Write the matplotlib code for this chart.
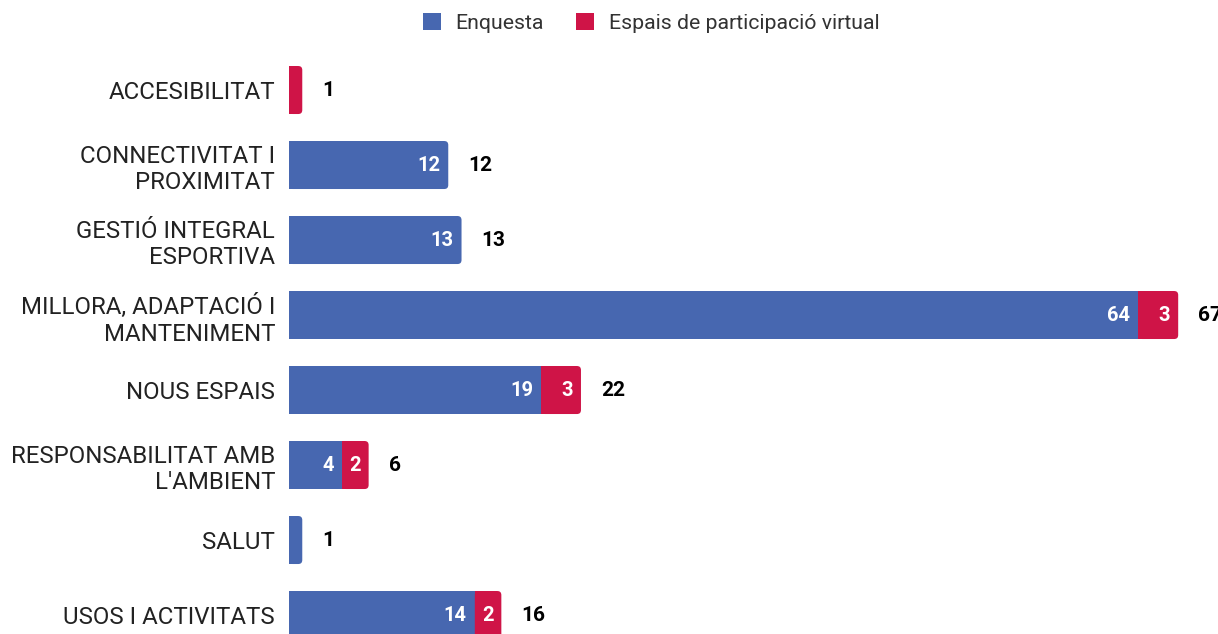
import matplotlib
matplotlib.use("Agg")
import matplotlib.pyplot as plt
import numpy as np
from matplotlib.transforms import offset_copy
from matplotlib.patches import FancyBboxPatch

categories = ["ACCESIBILITAT", "CONNECTIVITAT I\nPROXIMITAT", "GESTIÓ INTEGRAL\nESPORTIVA",
              "MILLORA, ADAPTACIÓ I\nMANTENIMENT", "NOUS ESPAIS", "RESPONSABILITAT AMB\nL'AMBIENT",
              "SALUT", "USOS I ACTIVITATS"]
enquesta = [0, 12, 13, 64, 19, 4, 1, 14]
virtual = [1, 0, 0, 3, 3, 2, 0, 2]
series_names = ["Enquesta", "Espais de participació virtual"]
colors = ["#4767B0", "#CF1447"]

plt.rcParams['font.family'] = ['Roboto', 'DejaVu Sans']

fig = plt.figure(figsize=(12.18, 6.34), dpi=100)
ax = fig.add_axes([289/1218, 0, 1 - 289/1218, (634-52)/634])

y = np.arange(len(categories))
h = 0.64
b1 = ax.barh(y, enquesta, height=h, color=colors[0], label=series_names[0])
b2 = ax.barh(y, virtual, left=enquesta, height=h, color=colors[1], label=series_names[1])

ax.set_xlim(0, 70)
ax.set_ylim(7.253, -0.507)

# rounded right end on the outermost segment of each stack
rx = 0.3
for i in range(len(categories)):
    e, v = enquesta[i], virtual[i]
    bars = b2 if v > 0 else b1
    p = bars.patches[i]
    x0, w = p.get_x(), p.get_width()
    y0, hh = p.get_y(), p.get_height()
    if w <= 0:
        continue
    p.set_width(max(w - rx, 0))
    fb = FancyBboxPatch((x0, y0), w, hh,
                        boxstyle=f"round,pad=0,rounding_size={rx}",
                        mutation_aspect=0.177, facecolor=p.get_facecolor(),
                        edgecolor='none')
    ax.add_patch(fb)

ax.set_yticks(y)
ax.set_yticklabels(categories, fontsize=17.3, color="#222222", linespacing=1.22)
ax.tick_params(axis='y', length=0, pad=10)
ax.set_xticks([])
for s in ax.spines.values():
    s.set_visible(False)

tr_in = offset_copy(ax.transData, fig=fig, x=-8, y=0, units='dots')
tr_tot = offset_copy(ax.transData, fig=fig, x=20, y=0, units='dots')
for i in range(len(categories)):
    e, v = enquesta[i], virtual[i]
    if e >= 2:
        ax.text(e, y[i], str(e), transform=tr_in, ha='right', va='center', color='white',
                fontsize=14.5, fontweight='bold', zorder=5)
    if v >= 2:
        ax.text(e + v, y[i], str(v), transform=tr_in, ha='right', va='center', color='white',
                fontsize=14.5, fontweight='bold', zorder=5)
    ax.text(e + v, y[i], str(e + v), transform=tr_tot, ha='left', va='center', color='black',
            fontsize=15, fontweight='bold', clip_on=True)

fig.legend(loc='center', bbox_to_anchor=(651/1218, 1 - 23/634), ncol=2, frameon=False,
           fontsize=15.3, handlelength=0.85, handleheight=0.85, handletextpad=0.7,
           columnspacing=1.5, labelcolor="#333333")

fig.savefig("out.png", dpi=100)
